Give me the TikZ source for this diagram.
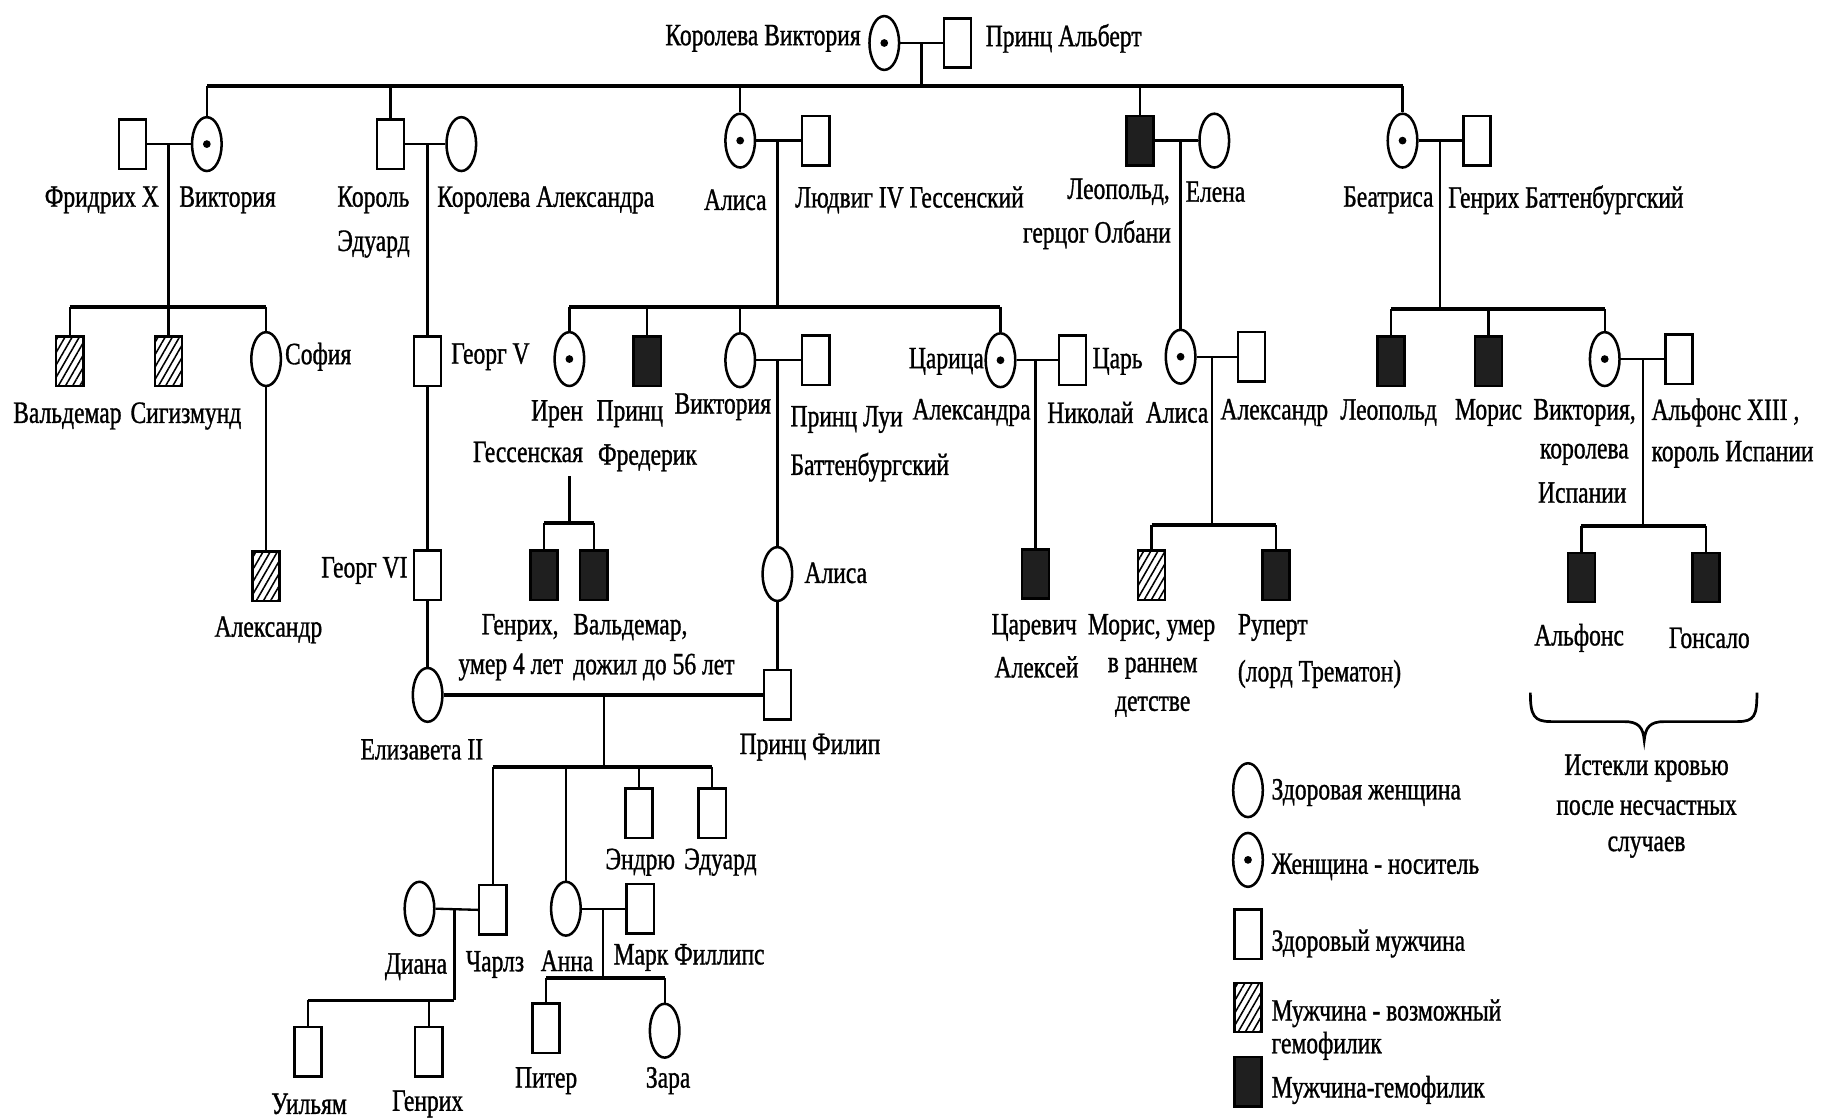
\documentclass[tikz,border=0pt]{standalone}
\usepackage{fontspec}
\setmainfont{Liberation Serif}[FakeStretch=0.76,FakeBold=1]
\usetikzlibrary{shapes.geometric,patterns.meta}
\begin{document}
\begin{tikzpicture}[x=0.6pt,y=-0.6pt,
  fem/.style={ellipse,draw,line width=1.3pt,minimum width=15.3pt,minimum height=27.8pt,inner sep=0pt,fill=white},
  car/.style={fem,path picture={\fill[black] (path picture bounding box.center) circle (2pt);}},
  mbase/.style={rectangle,draw,line width=1.3pt,minimum width=14pt,minimum height=25.5pt,inner sep=0pt},
  mal/.style={mbase,fill=white},
  aff/.style={mbase,fill=black!88},
  hat/.style={mbase,pattern={Lines[angle=60,distance=3.2pt,line width=0.8pt]}},
  lbl/.style={inner sep=0pt,font=\fontsize{16}{19}\selectfont},
  ln/.style={line width=1.2pt},
  barl/.style={line width=2pt},
]
\fill[white] (0,0) rectangle (1568,963);
\useasboundingbox (0,0) rectangle (1568,963);

% ---------- generation 0
\node[car] (qv) at (761,37) {};
\node[mal] (pa) at (824,37) {};
\node[lbl,anchor=east] (tqv) at (741,33) {Королева Виктория};
\node[lbl,anchor=west] (tpa) at (848,33) {Принц Альберт};
\coordinate (m0) at (793,37);
\coordinate (tbL) at (178,74);
\coordinate (tbR) at (1207,74);

% ---------- generation 1
\node[mal] (fx) at (114,124) {};
\node[car] (vk) at (178,124) {};
\node[lbl,anchor=east] (tfx) at (137,172) {Фридрих X};
\node[lbl,anchor=west] (tvk) at (154,172) {Виктория};
\coordinate (m1) at (145,124);

\node[mal] (ke) at (336,124) {};
\node[fem] (ka) at (397,124) {};
\node[lbl,anchor=west] (tke1) at (290,172) {Король};
\node[lbl,anchor=west] (tke2) at (290,210) {Эдуард};
\node[lbl,anchor=west] (tka) at (376,172) {Королева Александра};
\coordinate (m2) at (368,124);

\node[car] (al) at (637,121) {};
\node[mal] (lu) at (702,121) {};
\node[lbl,anchor=east] (tal) at (660,172) {Алиса};
\node[lbl,anchor=west] (tlu) at (684,172) {Людвиг IV Гессенский};
\coordinate (m3) at (669,121);

\node[aff] (le) at (981,121) {};
\node[fem] (el) at (1045,121) {};
\node[lbl,anchor=east] (tle1) at (1007,165) {Леопольд,};
\node[lbl,anchor=east] (tle2) at (1008,202) {герцог Олбани};
\node[lbl,anchor=west] (tel) at (1020,165) {Елена};
\coordinate (m4) at (1016,121);

\node[car] (be) at (1207,121) {};
\node[mal] (gb) at (1271,121) {};
\node[lbl,anchor=east] (tbe) at (1234,172) {Беатриса};
\node[lbl,anchor=west] (tgb) at (1246,172) {Генрих Баттенбургский};
\coordinate (m5) at (1239,121);

% ---------- generation 2
\coordinate (fbL) at (60,264);
\coordinate (fbR) at (229,264);
\node[hat] (wd) at (60,311) {};
\node[hat] (sg) at (145,311) {};
\node[fem] (so) at (229,309) {};
\node[lbl] (twd) at (58,358) {Вальдемар};
\node[lbl] (tsg) at (160,358) {Сигизмунд};
\node[lbl,anchor=west] (tso) at (245,307) {София};
\node[hat] (als) at (229,496) {};
\node[lbl] (tals) at (231,542) {Александр};

\node[mal] (gv) at (368,311) {};
\node[lbl,anchor=west] (tgv) at (388,307) {Георг V};
\node[mal] (g6) at (368,495) {};
\node[lbl,anchor=east] (tg6) at (351,491) {Георг VI};
\node[fem] (e2) at (368,598) {};
\node[lbl] (te2) at (363,645) {Елизавета II};

\coordinate (abL) at (490,264);
\coordinate (abR) at (861,264);
\node[car] (ir) at (490,309) {};
\node[lbl,anchor=east] (tir1) at (502,356) {Ирен};
\node[lbl,anchor=east] (tir2) at (502,389) {Гессенская};
\coordinate (irT) at (490,410);
\coordinate (ibL) at (468,450);
\coordinate (ibR) at (511,450);
\node[aff] (hg) at (468,495) {};
\node[aff] (vd) at (511,495) {};
\node[lbl,anchor=east] (thg1) at (481,540) {Генрих,};
\node[lbl,anchor=east] (thg2) at (485,574) {умер 4 лет};
\node[lbl,anchor=west] (tvd1) at (493,540) {Вальдемар,};
\node[lbl,anchor=west] (tvd2) at (493,574) {дожил до 56 лет};

\node[aff] (pf) at (557,311) {};
\node[lbl,anchor=east] (tpf1) at (571,356) {Принц};
\node[lbl,anchor=east] (tpf2) at (600,394) {Фредерик};
\node[fem] (vi) at (637,310) {};
\node[mal] (pl) at (702,310) {};
\node[lbl] (tvi) at (622,350) {Виктория};
\node[lbl,anchor=west] (tpl1) at (680,361) {Принц Луи};
\node[lbl,anchor=west] (tpl2) at (680,402) {Баттенбургский};
\coordinate (m6) at (669,310);
\node[fem] (ali3) at (669,494) {};
\node[lbl,anchor=west] (tali3) at (692,493) {Алиса};
\node[mal] (fp) at (669,598) {};
\node[lbl] (tfp) at (697,643) {Принц Филип};

\node[car] (ca) at (861,310) {};
\node[mal] (tn) at (923,310) {};
\node[lbl,anchor=east] (tca1) at (847,311) {Царица};
\node[lbl,anchor=west] (tca2) at (785,355) {Александра};
\node[lbl,anchor=west] (ttn1) at (940,311) {Царь};
\node[lbl,anchor=west] (ttn2) at (901,355) {Николай};
\coordinate (m7) at (891,310);
\node[aff] (ta) at (891,494) {};
\node[lbl] (tta1) at (890,540) {Царевич};
\node[lbl] (tta2) at (892,574) {Алексей};

\node[car] (al2) at (1016,307) {};
\node[mal] (ax) at (1077,307) {};
\node[lbl] (tal2) at (1013,355) {Алиса};
\node[lbl,anchor=west] (tax) at (1050,355) {Александр};
\coordinate (m8) at (1043,307);
\coordinate (lbL) at (991,452);
\coordinate (lbR) at (1098,452);
\node[hat] (mr) at (991,495) {};
\node[aff] (ru) at (1098,495) {};
\node[lbl] (tmr1) at (991,540) {Морис, умер};
\node[lbl] (tmr2) at (992,575) {в раннем};
\node[lbl] (tmr3) at (992,608) {детстве};
\node[lbl,anchor=west] (tru1) at (1065,540) {Руперт};
\node[lbl,anchor=west] (tru2) at (1065,580) {(лорд Трематон)};

\coordinate (bbL) at (1197,266);
\coordinate (bbR) at (1381,266);
\node[aff] (lp) at (1197,311) {};
\node[aff] (mo) at (1281,311) {};
\node[car] (vs) at (1381,309) {};
\node[mal] (a13) at (1445,309) {};
\node[lbl] (tlp) at (1195,355) {Леопольд};
\node[lbl] (tmo) at (1281,355) {Морис};
\node[lbl,anchor=east] (tvs1) at (1408,355) {Виктория,};
\node[lbl,anchor=east] (tvs2) at (1402,391) {королева};
\node[lbl,anchor=east] (tvs3) at (1400,424) {Испании};
\node[lbl,anchor=west] (ta131) at (1421,355) {Альфонс XIII ,};
\node[lbl,anchor=west] (ta132) at (1421,391) {король Испании};
\coordinate (m9) at (1414,309);
\coordinate (sbL) at (1361,453);
\coordinate (sbR) at (1468,453);
\node[aff] (af) at (1361,497) {};
\node[aff] (gn) at (1468,497) {};
\node[lbl] (taf) at (1359,549) {Альфонс};
\node[lbl] (tgn) at (1471,549) {Гонсало};

% ---------- generation 3-4
\coordinate (m10) at (520,598);
\coordinate (ebL) at (424,660);
\coordinate (ebR) at (613,660);
\node[mal] (ch) at (424,783) {};
\node[fem] (an) at (487,782) {};
\node[mal] (en) at (550,700) {};
\node[mal] (ed) at (613,700) {};
\node[lbl] (ten) at (551,742) {Эндрю};
\node[lbl] (ted) at (620,742) {Эдуард};
\node[fem] (di) at (361,782) {};
\node[lbl] (tdi) at (358,832) {Диана};
\node[lbl] (tch) at (426,830) {Чарлз};
\node[lbl] (tan) at (488,827) {Анна};
\node[mal] (mk) at (551,782) {};
\node[lbl] (tmk) at (593,824) {Марк Филлипс};
\coordinate (m11) at (391,782);
\coordinate (cbL) at (265,861);
\coordinate (cbR) at (391,861);
\node[mal] (wi) at (265,905) {};
\node[mal] (hr) at (369,905) {};
\node[lbl] (twi) at (266,950) {Уильям};
\node[lbl] (thr) at (368,950) {Генрих};
\coordinate (m12) at (519,782);
\coordinate (pbL) at (470,842);
\coordinate (pbR) at (572,842);
\node[mal] (pt) at (470,885) {};
\node[fem] (za) at (572,887) {};
\node[lbl] (tpt) at (470,930) {Питер};
\node[lbl] (tza) at (575,930) {Зара};

% ---------- connectors
\draw[ln] (qv.east) -- (pa.west);
\draw[ln] (m0) -- (m0 |- tbL);
\draw[barl] (tbL) -- (tbR);
\draw[ln] (tbL) -- (vk.north);
\draw[ln] (ke.north |- tbL) -- (ke.north);
\draw[ln] (al.north |- tbL) -- (al.north);
\draw[ln] (le.north |- tbL) -- (le.north);
\draw[ln] (tbR) -- (be.north);

\draw[ln] (fx.east) -- (vk.west);
\draw[ln] (m1) -- (m1 |- fbL);
\draw[barl] (fbL) -- (fbR);
\draw[ln] (fbL) -- (wd.north);
\draw[ln] (sg.north |- fbL) -- (sg.north);
\draw[ln] (fbR) -- (so.north);
\draw[ln] (so.south) -- (als.north);

\draw[ln] (ke.east) -- (ka.west);
\draw[ln] (m2) -- (gv.north);
\draw[ln] (gv.south) -- (g6.north);
\draw[ln] (g6.south) -- (e2.north);

\draw[ln] (al.east) -- (lu.west);
\draw[ln] (m3) -- (m3 |- abL);
\draw[barl] (abL) -- (abR);
\draw[ln] (abL) -- (ir.north);
\draw[ln] (pf.north |- abL) -- (pf.north);
\draw[ln] (vi.north |- abL) -- (vi.north);
\draw[ln] (abR) -- (ca.north);
\draw[ln] (irT) -- (irT |- ibL);
\draw[barl] (ibL) -- (ibR);
\draw[ln] (ibL) -- (hg.north);
\draw[ln] (ibR) -- (vd.north);
\draw[ln] (vi.east) -- (pl.west);
\draw[ln] (m6) -- (ali3.north);
\draw[ln] (ali3.south) -- (fp.north);
\draw[ln] (ca.east) -- (tn.west);
\draw[ln] (m7) -- (ta.north);

\draw[ln] (le.east) -- (el.west);
\draw[ln] (m4) -- (al2.north);
\draw[ln] (al2.east) -- (ax.west);
\draw[ln] (m8) -- (m8 |- lbL);
\draw[barl] (lbL) -- (lbR);
\draw[ln] (lbL) -- (mr.north);
\draw[ln] (lbR) -- (ru.north);

\draw[ln] (be.east) -- (gb.west);
\draw[ln] (m5) -- (m5 |- bbL);
\draw[barl] (bbL) -- (bbR);
\draw[ln] (bbL) -- (lp.north);
\draw[ln] (mo.north |- bbL) -- (mo.north);
\draw[ln] (bbR) -- (vs.north);
\draw[ln] (vs.east) -- (a13.west);
\draw[ln] (m9) -- (m9 |- sbL);
\draw[barl] (sbL) -- (sbR);
\draw[ln] (sbL) -- (af.north);
\draw[ln] (sbR) -- (gn.north);

\draw[barl] (e2.east) -- (fp.west);
\draw[ln] (m10) -- (m10 |- ebL);
\draw[barl] (ebL) -- (ebR);
\draw[ln] (ebL) -- (ch.north);
\draw[ln] (an.north |- ebL) -- (an.north);
\draw[ln] (en.north |- ebL) -- (en.north);
\draw[ln] (ebR) -- (ed.north);
\draw[ln] (di.east) -- (ch.west);
\draw[ln] (m11) -- (cbR);
\draw[barl] (cbL) -- (cbR);
\draw[ln] (cbL) -- (wi.north);
\draw[ln] (hr.north |- cbL) -- (hr.north);
\draw[ln] (an.east) -- (mk.west);
\draw[ln] (m12) -- (m12 |- pbL);
\draw[barl] (pbL) -- (pbR);
\draw[ln] (pbL) -- (pt.north);
\draw[ln] (pbR) -- (za.north);

% ---------- brace and note
\draw[line width=1.4pt] (1317,596) .. controls (1317,616) and (1320,621) .. (1335,621)
  -- (1398,621) .. controls (1410,621) and (1414,626) .. (1415,637)
  .. controls (1416,626) and (1420,621) .. (1432,621)
  -- (1495,621) .. controls (1510,621) and (1512,616) .. (1512,596);
\node[lbl] (tn1) at (1417,661) {Истекли кровью};
\node[lbl] (tn2) at (1417,695) {после несчастных};
\node[lbl] (tn3) at (1417,729) {случаев};

% ---------- legend
\node[fem] (lg1) at (1074,680) {};
\node[car] (lg2) at (1074,740) {};
\node[mal] (lg3) at (1074,804) {};
\node[hat] (lg4) at (1074,867) {};
\node[aff] (lg5) at (1074,931) {};
\node[lbl,anchor=west] (tlg1) at (1094,682) {Здоровая женщина};
\node[lbl,anchor=west] (tlg2) at (1094,746) {Женщина - носитель};
\node[lbl,anchor=west] (tlg3) at (1094,812) {Здоровый мужчина};
\node[lbl,anchor=west] (tlg4) at (1094,872) {Мужчина - возможный};
\node[lbl,anchor=west] (tlg5) at (1094,900) {гемофилик};
\node[lbl,anchor=west] (tlg6) at (1094,938) {Мужчина-гемофилик};
\end{tikzpicture}
\end{document}
